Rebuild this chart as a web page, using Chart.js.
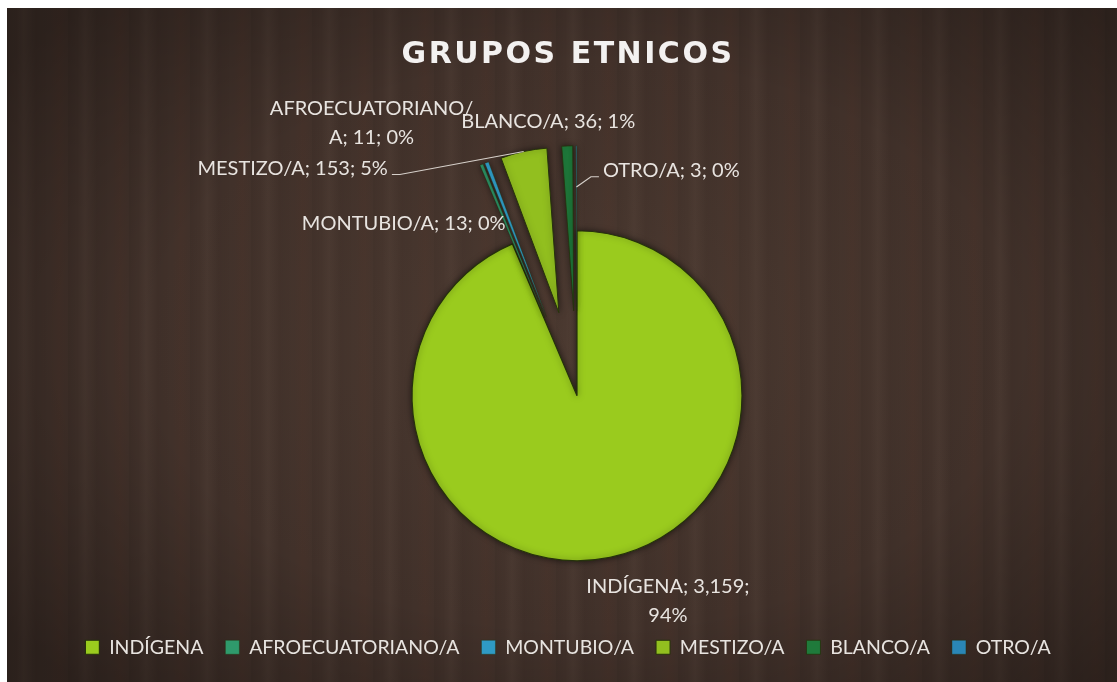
<!DOCTYPE html>
<html>
<head>
<meta charset="utf-8">
<title>Grupos etnicos</title>
<script src="https://cdn.jsdelivr.net/npm/chart.js"></script>
<style>
  html, body { margin: 0; padding: 0; background: #fff; width: 1117px; height: 682px; overflow: hidden; }
  /* dark wood-like panel behind the chart */
  #panel {
    position: absolute; left: 7px; top: 8px; width: 1110px; height: 674px;
    background:
      radial-gradient(ellipse 65% 70% at 52% 50%, rgba(100,78,64,0.30) 0%, rgba(0,0,0,0) 60%, rgba(0,0,0,0.32) 100%),
      repeating-linear-gradient(90deg, rgba(0,0,0,0.05) 0px, rgba(0,0,0,0) 9px, rgba(255,225,200,0.03) 17px, rgba(0,0,0,0.04) 29px, rgba(0,0,0,0) 43px, rgba(120,50,30,0.06) 52px, rgba(0,0,0,0) 61px),
      #41312a;
  }
  #chart { display: block; }
</style>
</head>
<body>
<div id="panel"><canvas id="chart" width="1110" height="674"></canvas></div>
<script>
// data
const categories = ["INDÍGENA", "AFROECUATORIANO/A", "MONTUBIO/A", "MESTIZO/A", "BLANCO/A", "OTRO/A"];
const counts = [3159, 11, 13, 153, 36, 3];

// styling
const sliceColors = ["#9acb1e", "#2f9a6c", "#2f9ac4", "#92bf1f", "#1f7a3b", "#2a86b6"];
const sliceBorders = [1.2, 0.4, 0.4, 1, 0.8, 0.4];  // thin slivers get thin outlines
const explodeDist = [0, 85, 85, 85, 85, 85];        // how far each slice is pulled out
const labelNudge = [[58, 44], [-110, -42], [-83, 61], [-231, 17], [-19, -24], [95, 25]];
const labelWrap = [180, 212, 0, 0, 0, 0];           // 0 = single line
const leaderAt = [0, 0, 0, 1, 0, 0.75];             // where the leader line hits the slice
const textColor = "#e8e4e0";

function wrapText(ctx, text, maxW) {
  if (!maxW) return [text];
  const parts = text.match(/[^ \/]*[ \/]?/g).filter(Boolean);
  const lines = [];
  let line = "";
  parts.forEach((p) => {
    if (line && ctx.measureText((line + p).trimEnd()).width > maxW) {
      lines.push(line.trimEnd());
      line = p;
    } else {
      line += p;
    }
  });
  if (line) lines.push(line.trimEnd());
  return lines;
}

// pull slices out by a plain translation (chart.js offset also grows the radius)
const explodePlugin = {
  id: "explodeSlices",
  beforeDraw(chart) {
    // a bit of letter spacing on the title, like the original
    const tb = chart.titleBlock;
    if (tb && !tb.$spaced) {
      const baseTitleDraw = tb.draw;
      tb.draw = function (...args) {
        const prev = this.ctx.letterSpacing;
        this.ctx.letterSpacing = "2.5px";
        baseTitleDraw.apply(this, args);
        this.ctx.letterSpacing = prev || "0px";
      };
      tb.$spaced = true;
    }
  },
  beforeDatasetsDraw(chart) {
    chart.getDatasetMeta(0).data.forEach((arc, i) => {
      if (arc.$exploded) return;
      const baseDraw = arc.draw;
      arc.draw = function (ctx, area) {
        const mid = (this.startAngle + this.endAngle) / 2;
        const d = explodeDist[i] || 0;
        ctx.save();
        ctx.translate(Math.cos(mid) * d, Math.sin(mid) * d);
        ctx.shadowColor = "rgba(0,0,0,0.55)";
        ctx.shadowBlur = 6;
        baseDraw.call(this, ctx, area);
        ctx.restore();
      };
      arc.$exploded = true;
    });
  },
};

const labelPlugin = {
  id: "sliceLabels",
  afterDatasetsDraw(chart) {
    const ctx = chart.ctx;
    const meta = chart.getDatasetMeta(0);
    const total = counts.reduce((a, b) => a + b, 0);
    ctx.save();
    ctx.font = "20px Lato";
    ctx.fillStyle = textColor;
    ctx.strokeStyle = "#d6d0ca";
    ctx.lineWidth = 1.2;
    ctx.textAlign = "center";
    ctx.textBaseline = "middle";
    meta.data.forEach((arc, i) => {
      const { x, y, startAngle, endAngle, outerRadius } =
        arc.getProps(["x", "y", "startAngle", "endAngle", "outerRadius"], true);
      const mid = (startAngle + endAngle) / 2;
      const ux = Math.cos(mid), uy = Math.sin(mid);
      const d = explodeDist[i];
      const ax = x + ux * (d + outerRadius);
      const ay = y + uy * (d + outerRadius);
      const lx = ax + labelNudge[i][0];
      const ly = ay + labelNudge[i][1];

      const pct = Math.round((counts[i] / total) * 100);
      const text = `${categories[i]}; ${counts[i].toLocaleString("en-US")}; ${pct}%`;
      const lines = wrapText(ctx, text, labelWrap[i]);
      const lh = 29;
      lines.forEach((ln, k) => ctx.fillText(ln, lx, ly + (k - (lines.length - 1) / 2) * lh));

      if (leaderAt[i]) {
        const w = Math.max(...lines.map((l) => ctx.measureText(l).width));
        const ex = x + ux * (d + outerRadius * leaderAt[i]);
        const ey = y + uy * (d + outerRadius * leaderAt[i]);
        const side = ex > lx ? 1 : -1;
        const sx = lx + side * (w / 2 + 4);
        const sy = ly + 6;
        ctx.beginPath();
        ctx.moveTo(sx, sy);
        ctx.lineTo(sx + side * 8, sy);
        ctx.lineTo(ex, ey);
        ctx.stroke();
      }
    });
    ctx.restore();
  },
};

const chart = new Chart(document.getElementById("chart"), {
  type: "pie",
  data: {
    labels: categories,
    datasets: [
      {
        data: counts,
        backgroundColor: sliceColors,
        borderColor: "#26320c",
        borderWidth: sliceBorders,
      },
    ],
  },
  options: {
    responsive: false,
    animation: false,
    radius: 165,
    layout: { padding: { left: 12, right: 0, top: 0, bottom: 15 } },
    plugins: {
      title: {
        display: true,
        text: "GRUPOS ETNICOS",
        color: "#f3f1f0",
        font: { family: "DejaVu Sans", size: 30, weight: "bold" },
        padding: { top: 29, bottom: 103 },
      },
      // empty box on the left to nudge the pie a little right of the legend centre
      subtitle: {
        display: true,
        position: "left",
        text: " ",
        font: { size: 10 },
        padding: { top: 6, bottom: 0 },
      },
      legend: {
        position: "bottom",
        labels: {
          color: textColor,
          font: { family: "Lato", size: 19.5 },
          boxWidth: 14,
          boxHeight: 14,
          padding: 22,
        },
      },
      tooltip: { enabled: false },
    },
  },
  plugins: [explodePlugin, labelPlugin],
});
</script>
</body>
</html>
